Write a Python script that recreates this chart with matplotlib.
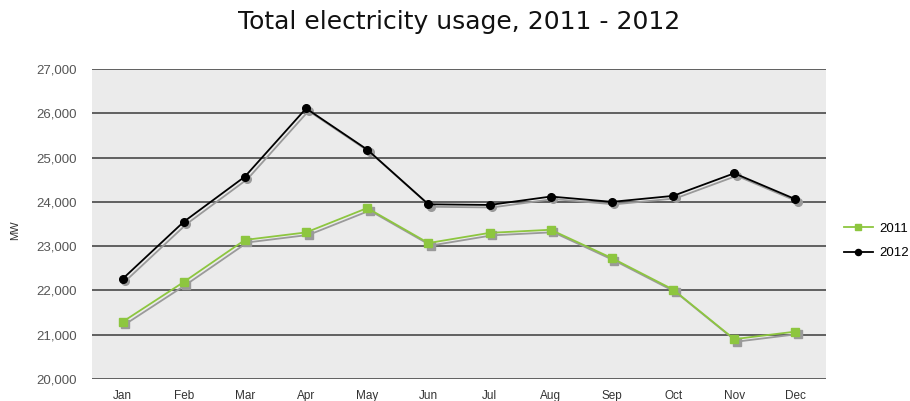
import matplotlib
matplotlib.use("Agg")
import matplotlib.pyplot as plt
import matplotlib.transforms as mtransforms

months = ["Jan", "Feb", "Mar", "Apr", "May", "Jun", "Jul", "Aug", "Sep", "Oct", "Nov", "Dec"]
usage_2011 = [21290, 22190, 23140, 23310, 23860, 23070, 23300, 23370, 22730, 22020, 20900, 21070]
usage_2012 = [22260, 23550, 24570, 26110, 25180, 23945, 23930, 24120, 24000, 24135, 24645, 24060]
yticks = [20000, 21000, 22000, 23000, 24000, 25000, 26000, 27000]

plt.rcParams['font.family'] = ['Liberation Sans', 'DejaVu Sans']

fig = plt.figure(figsize=(9.10, 4.01), dpi=100)
ax = fig.add_axes([92/910, 1-379/401, (826-92)/910, (379-69)/401])
ax.set_facecolor('#EBEBEB')
x = list(range(len(months)))

shadow = mtransforms.offset_copy(ax.transData, fig=fig, x=1.8, y=-1.8, units='points')
for vals, mk in ((usage_2011, 's'), (usage_2012, 'o')):
    ax.plot(x, vals, color='#9A9A9A', lw=1.3, marker=mk, ms=5.5, mec='#9A9A9A', mfc='#9A9A9A',
            transform=shadow, zorder=3)

ax.plot(x, usage_2011, color='#8DC63F', lw=1.3, marker='s', ms=5.5, mfc='#8DC63F', mec='#8DC63F',
        label='2011', zorder=4)
ax.plot(x, usage_2012, color='#000000', lw=1.3, marker='o', ms=5.5, mfc='#000000', mec='#000000',
        label='2012', zorder=4)

ax.set_xlim(-0.5, 11.5)
ax.set_ylim(20000, 27000)
ax.set_yticks(yticks)
ax.set_yticklabels([f"{v:,}" for v in yticks])
ax.set_xticks(x)
ax.set_xticklabels(months)
ax.yaxis.grid(True, color='#555555', lw=1.3)
ax.set_axisbelow(True)
for s in ax.spines.values():
    s.set_visible(False)
ax.tick_params(axis='y', length=0, pad=11, labelsize=9.5, labelcolor='#555555')
ax.tick_params(axis='x', length=0, pad=8, labelsize=8.5, labelcolor='#333333')

fig.text(15/910, 1-230/401, 'MW', rotation=90, ha='center', va='center', fontsize=8, color='#333333')
fig.text(459/910, 1-22/401, 'Total electricity usage, 2011 - 2012', ha='center', va='center',
         fontsize=18, color='#111111', family=['DejaVu Sans'])

fig.legend(loc='center left', bbox_to_anchor=(832/910, 1-241/401), frameon=False,
           fontsize=9.5, handlelength=2.2, labelspacing=0.9, handletextpad=0.5, markerscale=0.8)

fig.savefig('out.png', dpi=100)
